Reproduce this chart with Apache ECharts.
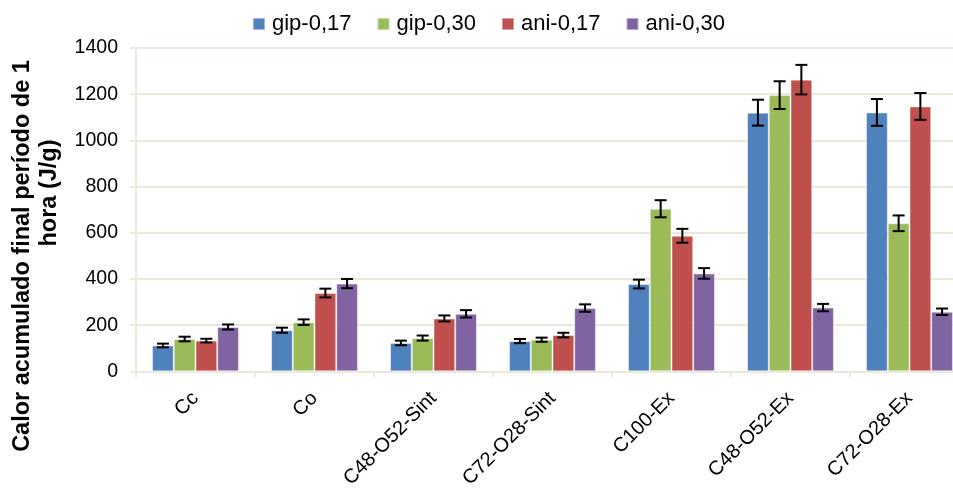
<!DOCTYPE html>
<html>
<head>
<meta charset="utf-8">
<script src="https://cdn.jsdelivr.net/npm/echarts@6/dist/echarts.min.js"></script>
<style>
html,body{margin:0;padding:0;background:#fff;}
#wrap{width:953px;height:491px;overflow:hidden;position:relative;}
#chart{position:absolute;left:0;top:0;width:969px;height:491px;}
</style>
</head>
<body>
<div id="wrap"><div id="chart"></div></div>
<script>
var categories = ['Cc', 'Co', 'C48-O52-Sint', 'C72-O28-Sint', 'C100-Ex', 'C48-O52-Ex', 'C72-O28-Ex'];
var seriesNames = ['gip-0,17', 'gip-0,30', 'ani-0,17', 'ani-0,30'];
var gip017 = [112, 178, 123, 131, 378, 1120, 1121];
var gip030 = [140, 213, 144, 137, 704, 1196, 641];
var ani017 = [133, 339, 229, 157, 587, 1263, 1147];
var ani030 = [192, 380, 249, 274, 424, 276, 258];
var gip017Err = [8, 11, 10, 9, 19, 56, 58];
var gip030Err = [10, 12, 11, 9, 37, 60, 34];
var ani017Err = [8, 19, 13, 10, 30, 64, 58];
var ani030Err = [11, 20, 16, 16, 23, 16, 14];
var yTicks = [0, 200, 400, 600, 800, 1000, 1200, 1400];

var colors = ['#4F81BD', '#9BBB59', '#C0504D', '#8064A2'];
var values = [gip017, gip030, ani017, ani030];
var errors = [gip017Err, gip030Err, ani017Err, ani030Err];
var catGap = 0.27;
var FONT = '"Liberation Sans", Arial, sans-serif';
var gridColor = '#EBE8DC';

var chart = echarts.init(document.getElementById('chart'));
var series = [];
values.forEach(function (vals, i) {
  series.push({
    name: seriesNames[i],
    type: 'bar',
    data: vals,
    barGap: '0%',
    barCategoryGap: (catGap * 100) + '%',
    itemStyle: { color: colors[i], borderColor: 'rgba(255,255,255,0.45)', borderWidth: 1 },
    z: 2
  });
});
values.forEach(function (vals, i) {
  series.push({
    type: 'custom',
    name: seriesNames[i] + '-err',
    data: vals.map(function (v, k) { return [k, v, errors[i][k]]; }),
    z: 5,
    silent: true,
    renderItem: function (params, api) {
      var k = api.value(0), v = api.value(1), e = api.value(2);
      var band = api.size([1, 0])[0];
      var bw = band * (1 - catGap) / 4;
      var c = api.coord([k, v]);
      var x = c[0] + (i - 1.5) * bw;
      var yTop = api.coord([k, v + e])[1];
      var yBot = api.coord([k, v - e])[1];
      var hw = 6;
      var st = { stroke: '#000', lineWidth: 2 };
      return {
        type: 'group',
        children: [
          { type: 'line', shape: { x1: x, y1: yTop, x2: x, y2: yBot }, style: st },
          { type: 'line', shape: { x1: x - hw, y1: yTop, x2: x + hw, y2: yTop }, style: st },
          { type: 'line', shape: { x1: x - hw, y1: yBot, x2: x + hw, y2: yBot }, style: st }
        ]
      };
    }
  });
});

chart.setOption({
  animation: false,
  backgroundColor: '#fff',
  textStyle: { fontFamily: FONT },
  legend: {
    data: seriesNames,
    top: 8,
    left: 247,
    itemWidth: 12,
    itemHeight: 12,
    itemGap: 25,
    icon: 'rect',
    textStyle: { fontSize: 22, color: '#000', fontFamily: FONT, padding: [0, 0, 0, 2] }
  },
  grid: { left: 136, top: 48, width: 833, height: 330, containLabel: false },
  xAxis: {
    type: 'category',
    data: categories,
    axisLine: { lineStyle: { color: gridColor, width: 2 } },
    axisTick: { show: true, length: 6, lineStyle: { color: gridColor, width: 2 } },
    axisLabel: { rotate: 45, fontSize: 20, color: '#000', margin: 24, fontFamily: FONT, interval: 0 }
  },
  yAxis: {
    type: 'value',
    min: yTicks[0],
    max: yTicks[yTicks.length - 1],
    interval: 200,
    axisLine: { show: true, lineStyle: { color: gridColor, width: 2 } },
    axisTick: { show: true, length: 6, lineStyle: { color: gridColor, width: 2 } },
    splitLine: { lineStyle: { color: gridColor, width: 2 } },
    axisLabel: { fontSize: 19.5, color: '#000', margin: 18, fontFamily: FONT, formatter: function (v) { return String(v); } }
  },
  graphic: [
    {
      type: 'text', x: 23, y: 256, rotation: Math.PI / 2,
      style: { text: 'Calor acumulado final período de 1', fill: '#000', font: 'bold 23.5px ' + FONT, textAlign: 'center', textVerticalAlign: 'middle' }
    },
    {
      type: 'text', x: 50, y: 193, rotation: Math.PI / 2,
      style: { text: 'hora (J/g)', fill: '#000', font: 'bold 23.5px ' + FONT, textAlign: 'center', textVerticalAlign: 'middle' }
    }
  ],
  series: series
});
</script>
</body>
</html>
